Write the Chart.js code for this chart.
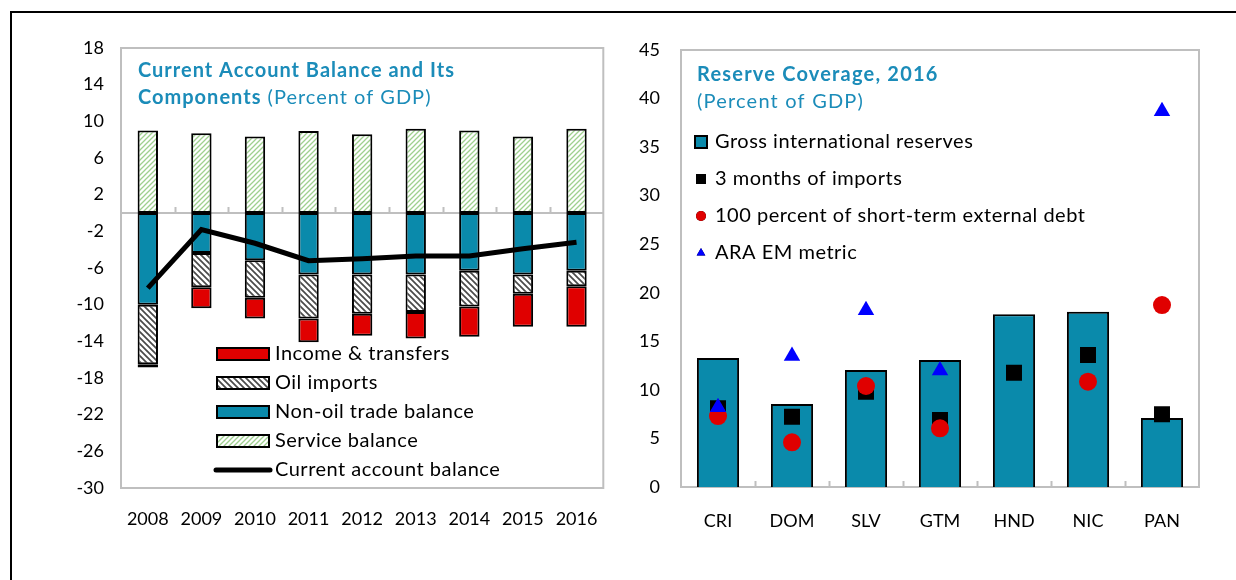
<!DOCTYPE html>
<html>
<head>
<meta charset="utf-8">
<script src="https://cdn.jsdelivr.net/npm/chart.js@4.4.1/dist/chart.umd.min.js"></script>
<style>
  body { margin: 0; background: #fff; width: 1236px; height: 580px; position: relative; overflow: hidden; }
  #marco { position: absolute; left: 10px; top: 11px; width: 1300px; height: 700px; border-left: 2px solid #000; border-top: 2px solid #000; }
  .panel { position: absolute; top: 0; width: 618px; height: 580px; }
</style>
</head>
<body>
<div id="marco"></div>
<div class="panel" style="left:0"><canvas id="graficoBalanza" width="618" height="580"></canvas></div>
<div class="panel" style="left:618px"><canvas id="graficoReservas" width="618" height="580"></canvas></div>
<script>
// Datos: balanza de cuenta corriente (% del PIB)
const years = ['2008', '2009', '2010', '2011', '2012', '2013', '2014', '2015', '2016'];
const serviceBal = [9.0, 8.7, 8.35, 8.95, 8.6, 9.2, 9.0, 8.35, 9.2];
const nonOilTrade = [-10.0, -4.35, -5.15, -6.7, -6.7, -6.7, -6.3, -6.7, -6.3];
const oilImports = [-6.5, -3.75, -4.1, -4.8, -4.3, -4.1, -3.9, -2.1, -1.7];
const incomeTransfers = [-0.35, -2.3, -2.25, -2.6, -2.4, -2.9, -3.3, -3.6, -4.4];
const currentAccount = [-8.2, -1.8, -3.3, -5.2, -5.0, -4.7, -4.7, -3.9, -3.2];
const leftTicks = { min: -30, max: 18, step: 4 };

// Datos: cobertura de reservas 2016 (% del PIB)
const countries = ['CRI', 'DOM', 'SLV', 'GTM', 'HND', 'NIC', 'PAN'];
const grossReserves = [13.28, 8.55, 12.05, 13.08, 17.78, 18.05, 7.1];
const importsCover = [8.1, 7.24, 9.81, 6.9, 11.77, 13.59, 7.5];
const shortTermDebt = [7.31, 4.6, 10.4, 6.04, null, 10.84, 18.74];
const araMetric = [8.2, 13.5, 18.2, 12.0, null, null, 38.7];
const rightTicks = { min: 0, max: 45, step: 5 };

const FUENTE = 'Lato, "Open Sans", sans-serif';
const TEAL = '#0a8aab';
const TITULO = '#1b8cb9';
const GRIS = '#bfbfbf';

// Tramas para las barras rayadas
function trama(fondo, linea, paso, ancho, invertida) {
    const c = document.createElement('canvas');
    c.width = paso; c.height = paso;
    const g = c.getContext('2d');
    g.fillStyle = fondo;
    g.fillRect(0, 0, paso, paso);
    g.strokeStyle = linea;
    g.lineWidth = ancho;
    g.beginPath();
    if (invertida) {
        g.moveTo(-1, -1); g.lineTo(paso + 1, paso + 1);
        g.moveTo(-1, paso - 1); g.lineTo(1, paso + 1);
        g.moveTo(paso - 1, -1); g.lineTo(paso + 1, 1);
    } else {
        g.moveTo(-1, paso + 1); g.lineTo(paso + 1, -1);
        g.moveTo(-1, 1); g.lineTo(1, -1);
        g.moveTo(paso - 1, paso + 1); g.lineTo(paso + 1, paso - 1);
    }
    g.stroke();
    return g.createPattern(c, 'repeat');
}
const tramaPetroleo = trama('#ffffff', '#4a4a4a', 6, 1.7, true);
const tramaServicios = trama('#ffffff', '#9fd08f', 5, 1.3, false);

// Marco gris del área, línea del cero y marcas entre categorías
const marcoArea = {
    id: 'marcoArea',
    beforeDatasetsDraw(chart, args, opts) {
        const { ctx, chartArea: a, scales } = chart;
        ctx.save();
        ctx.strokeStyle = GRIS;
        ctx.lineWidth = 2;
        ctx.strokeRect(a.left, a.top, a.right - a.left, a.bottom - a.top);
        const y0 = scales.y.getPixelForValue(opts.base);
        ctx.beginPath();
        ctx.moveTo(a.left, y0); ctx.lineTo(a.right, y0);
        const n = chart.data.labels.length;
        const w = (a.right - a.left) / n;
        for (let i = 1; i < n; i++) {
            const x = Math.round(a.left + i * w) + 0.5;
            ctx.moveTo(x, y0); ctx.lineTo(x, y0 - 6);
        }
        ctx.stroke();
        ctx.restore();
    }
};

// Título y leyenda dentro del área
const leyendaInterna = {
    id: 'leyendaInterna',
    afterDraw(chart, args, opts) {
        const ctx = chart.ctx;
        ctx.save();
        ctx.textBaseline = 'middle';
        ctx.textAlign = 'left';
        ctx.letterSpacing = opts.espTitulo + 'px';
        opts.titulo.forEach(l => {
            let x = l.x;
            l.partes.forEach(p => {
                ctx.font = (p.bold ? 'bold ' : '') + opts.tamTitulo + 'px ' + FUENTE;
                ctx.fillStyle = TITULO;
                ctx.fillText(p.t, x, l.y);
                x += ctx.measureText(p.t).width;
            });
        });
        ctx.letterSpacing = opts.esp + 'px';
        ctx.font = opts.tam + 'px ' + FUENTE;
        opts.items.forEach((it, i) => {
            const ds = chart.data.datasets[it.ds];
            const y = opts.y + i * opts.fila;
            const cx = opts.x;
            if (it.tipo === 'caja') {
                ctx.fillStyle = ds.backgroundColor;
                ctx.fillRect(cx - it.w / 2, y - it.h / 2, it.w, it.h);
                ctx.strokeStyle = '#000';
                ctx.lineWidth = 2;
                ctx.strokeRect(cx - it.w / 2, y - it.h / 2, it.w, it.h);
            } else if (it.tipo === 'linea') {
                ctx.strokeStyle = ds.borderColor;
                ctx.lineWidth = 5;
                ctx.lineCap = 'round';
                ctx.beginPath();
                ctx.moveTo(cx - it.w / 2, y); ctx.lineTo(cx + it.w / 2, y);
                ctx.stroke();
            } else {
                Chart.helpers.drawPoint(ctx, {
                    pointStyle: ds.pointStyle, radius: it.r, rotation: 0, borderWidth: 0
                }, cx, y);
                ctx.fillStyle = ds.backgroundColor;
                ctx.fill();
            }
            ctx.fillStyle = '#000';
            ctx.fillText(ds.label, opts.xTexto, y);
        });
        ctx.restore();
    }
};

const ticksFuente = { family: FUENTE, size: 18 };

// Gráfico izquierdo: componentes de la cuenta corriente
new Chart(document.getElementById('graficoBalanza').getContext('2d'), {
    data: {
        labels: years,
        datasets: [
            { type: 'line', label: 'Current account balance', data: currentAccount, borderColor: '#000', borderWidth: 5,
              pointRadius: 0, fill: false, stack: 'cab', order: 0, tension: 0 },
            { type: 'bar', label: 'Non-oil trade balance', data: nonOilTrade, backgroundColor: TEAL, stack: 'a', order: 1 },
            { type: 'bar', label: 'Oil imports', data: oilImports, backgroundColor: tramaPetroleo, stack: 'a', order: 1 },
            { type: 'bar', label: 'Income & transfers', data: incomeTransfers, backgroundColor: '#e00000', stack: 'a', order: 1 },
            { type: 'bar', label: 'Service balance', data: serviceBal, backgroundColor: tramaServicios, stack: 'a', order: 1 }
        ]
    },
    options: {
        responsive: false,
        animation: false,
        layout: { padding: { top: 48, right: 11, left: 0, bottom: 0 } },
        datasets: { bar: { borderColor: '#000', borderWidth: 2, borderSkipped: false, categoryPercentage: 1, barPercentage: 0.38 } },
        scales: {
            x: {
                stacked: true,
                grid: { display: false, drawTicks: false },
                border: { display: false },
                ticks: { color: '#000', font: ticksFuente, padding: 20, maxRotation: 0 },
                afterFit: s => { s.height = 92; }
            },
            y: {
                stacked: true,
                min: leftTicks.min, max: leftTicks.max,
                afterBuildTicks: s => {
                    s.ticks = [];
                    for (let v = leftTicks.min; v <= leftTicks.max; v += leftTicks.step) s.ticks.push({ value: v });
                },
                grid: { display: false, drawTicks: false },
                border: { display: false },
                ticks: { color: '#000', font: ticksFuente, padding: 17 },
                afterFit: s => { s.width = 121; }
            }
        },
        plugins: {
            legend: { display: false },
            tooltip: { enabled: false },
            marcoArea: { base: 0 },
            leyendaInterna: {
                tamTitulo: 20, espTitulo: 1, tam: 20, esp: 0.5,
                titulo: [
                    { x: 138, y: 71, partes: [{ t: 'Current Account Balance and Its', bold: true }] },
                    { x: 138, y: 98, partes: [{ t: 'Components', bold: true }, { t: ' (Percent of GDP)', bold: false }] }
                ],
                x: 243, xTexto: 275, y: 354, fila: 29,
                items: [
                    { ds: 3, tipo: 'caja', w: 52, h: 12 },
                    { ds: 2, tipo: 'caja', w: 52, h: 12 },
                    { ds: 1, tipo: 'caja', w: 52, h: 12 },
                    { ds: 4, tipo: 'caja', w: 52, h: 12 },
                    { ds: 0, tipo: 'linea', w: 54 }
                ]
            }
        }
    },
    plugins: [marcoArea, leyendaInterna]
});

// Gráfico derecho: cobertura de reservas
new Chart(document.getElementById('graficoReservas').getContext('2d'), {
    data: {
        labels: countries,
        datasets: [
            { type: 'bar', label: 'Gross international reserves', data: grossReserves, backgroundColor: TEAL,
              borderColor: '#000', borderWidth: 2, borderSkipped: 'bottom', categoryPercentage: 1, barPercentage: 0.57, order: 4 },
            { type: 'line', label: '3 months of imports', data: importsCover, showLine: false, pointStyle: 'rect',
              pointRadius: 11.3, backgroundColor: '#000', borderWidth: 0, order: 3 },
            { type: 'line', label: '100 percent of short-term external debt', data: shortTermDebt, showLine: false, pointStyle: 'circle',
              pointRadius: 9, backgroundColor: '#e00000', borderWidth: 0, order: 2 },
            { type: 'line', label: 'ARA EM metric', data: araMetric, showLine: false, pointStyle: 'triangle',
              pointRadius: 9.5, backgroundColor: '#0000ff', borderWidth: 0, order: 1 }
        ]
    },
    options: {
        responsive: false,
        animation: false,
        layout: { padding: { top: 50, right: 37, left: 0, bottom: 0 } },
        scales: {
            x: {
                offset: true,
                grid: { display: false, drawTicks: false },
                border: { display: false },
                ticks: { color: '#000', font: ticksFuente, padding: 23, maxRotation: 0 },
                afterFit: s => { s.height = 93; }
            },
            y: {
                min: rightTicks.min, max: rightTicks.max,
                ticks: { stepSize: rightTicks.step, color: '#000', font: ticksFuente, padding: 21 },
                grid: { display: false, drawTicks: false },
                border: { display: false },
                afterFit: s => { s.width = 63; }
            }
        },
        plugins: {
            legend: { display: false },
            tooltip: { enabled: false },
            marcoArea: { base: 0 },
            leyendaInterna: {
                tamTitulo: 20, espTitulo: 1.2, tam: 20, esp: 0.5,
                titulo: [
                    { x: 79, y: 75, partes: [{ t: 'Reserve Coverage, 2016', bold: true }] },
                    { x: 79, y: 102, partes: [{ t: '(Percent of GDP)', bold: false }] }
                ],
                x: 83, xTexto: 97, y: 142, fila: 37,
                items: [
                    { ds: 0, tipo: 'caja', w: 12, h: 12 },
                    { ds: 1, tipo: 'punto', r: 7 },
                    { ds: 2, tipo: 'punto', r: 5 },
                    { ds: 3, tipo: 'punto', r: 5 }
                ]
            }
        }
    },
    plugins: [marcoArea, leyendaInterna]
});
</script>
</body>
</html>
